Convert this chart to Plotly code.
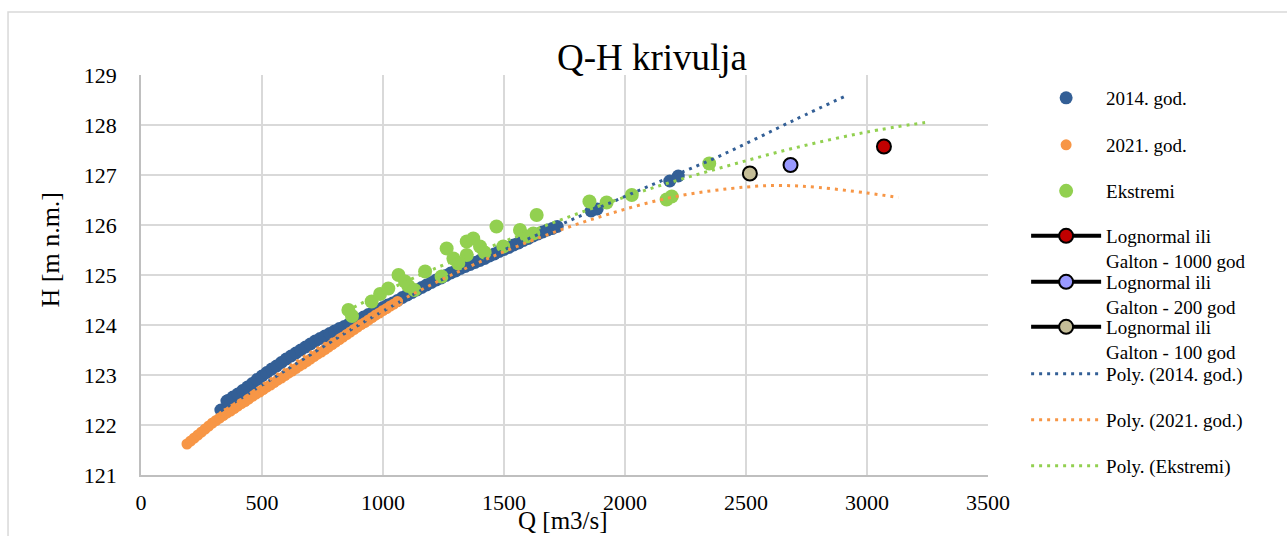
import plotly.graph_objects as go

# --- measured series -------------------------------------------------------
q_2014 = [330, 355, 360, 380, 400, 420, 440, 460, 480, 500, 520, 540, 560, 580,
          600, 620, 640, 660, 680, 700, 720, 740, 760, 780, 800, 820, 840, 860,
          880, 900, 920, 940, 960, 980, 1000, 1020, 1040, 1060, 1080, 1100, 1120,
          1140, 1160, 1180, 1200, 1220, 1240, 1260, 1280, 1300, 1320, 1340, 1360,
          1380, 1400, 1420, 1440, 1460, 1480, 1500, 1520, 1540, 1560, 1580, 1600,
          1620, 1640, 1660, 1680, 1700, 1720, 1860, 1885, 2185, 2220]
h_2014 = [122.30, 122.48, 122.49, 122.56, 122.62, 122.69, 122.76, 122.83, 122.91,
          122.98, 123.05, 123.12, 123.18, 123.25, 123.32, 123.38, 123.44, 123.50,
          123.56, 123.62, 123.68, 123.73, 123.78, 123.83, 123.88, 123.93, 123.97,
          124.02, 124.07, 124.11, 124.16, 124.21, 124.25, 124.30, 124.35, 124.40,
          124.44, 124.49, 124.55, 124.60, 124.65, 124.70, 124.75, 124.80, 124.85,
          124.90, 124.94, 124.99, 125.04, 125.08, 125.13, 125.17, 125.21, 125.25,
          125.29, 125.33, 125.38, 125.42, 125.47, 125.51, 125.55, 125.60, 125.64,
          125.69, 125.73, 125.78, 125.82, 125.86, 125.90, 125.93, 125.97, 126.28,
          126.32, 126.88, 126.98]

q_2021 = [190, 205, 220, 235, 250, 265, 280, 295, 310, 325, 340, 355, 370, 385,
          400, 415, 430, 445, 460, 475, 490, 505, 520, 535, 550, 565, 580, 595,
          610, 625, 640, 655, 670, 685, 700, 715, 730, 745, 760, 775, 790, 805,
          820, 835, 850, 865, 880, 895, 910, 925, 940, 955, 970, 985, 1000, 1015,
          1030, 1045, 1060]
h_2021 = [121.62, 121.68, 121.74, 121.80, 121.86, 121.92, 121.98, 122.04, 122.09,
          122.14, 122.19, 122.24, 122.28, 122.33, 122.38, 122.43, 122.47, 122.52,
          122.57, 122.62, 122.66, 122.71, 122.76, 122.80, 122.85, 122.90, 122.94,
          122.99, 123.04, 123.08, 123.13, 123.18, 123.22, 123.27, 123.32, 123.37,
          123.42, 123.46, 123.51, 123.56, 123.61, 123.66, 123.71, 123.76, 123.81,
          123.86, 123.91, 123.96, 124.01, 124.05, 124.10, 124.15, 124.20, 124.24,
          124.29, 124.33, 124.38, 124.42, 124.47]

q_ext = [857, 872, 953, 988, 1022, 1064, 1091, 1105, 1130, 1174, 1242, 1263, 1291,
         1311, 1346, 1346, 1373, 1401, 1420, 1469, 1497, 1566, 1594, 1621, 1635,
         1853, 1924, 2028, 2172, 2193, 2348]
h_ext = [124.30, 124.18, 124.47, 124.62, 124.73, 125.00, 124.87, 124.78, 124.70,
         125.07, 124.97, 125.53, 125.33, 125.23, 125.67, 125.40, 125.73, 125.57,
         125.45, 125.97, 125.57, 125.90, 125.77, 125.83, 126.20, 126.47, 126.45,
         126.60, 126.51, 126.57, 127.23]

# Lognormal (Galton) design floods
ln_names = ["Lognormal ili<br>Galton - 1000 god",
            "Lognormal ili<br>Galton - 200 god",
            "Lognormal ili<br>Galton - 100 god"]
ln_q = [3070, 2684, 2516]
ln_h = [127.57, 127.20, 127.03]
ln_colors = ["#c00000", "#9999ff", "#c4bd97"]

# polynomial trend lines, sampled along each curve
trend_names = ["Poly. (2014. god.)", "Poly. (2021. god.)", "Poly. (Ekstremi)"]
trend_q_2014 = [330, 600, 900, 1200, 1500, 1800, 2100, 2400, 2700, 2920]
trend_h_2014 = [122.28, 123.10, 124.00, 124.80, 125.50, 126.15, 126.78, 127.40,
                128.10, 128.60]
trend_q_2021 = [190, 400, 700, 1000, 1300, 1600, 1900, 2200, 2500, 2650, 2800,
                3000, 3130]
trend_h_2021 = [121.65, 122.45, 123.45, 124.30, 125.04, 125.66, 126.17, 126.56,
                126.76, 126.79, 126.75, 126.64, 126.55]
trend_q_ext = [850, 1000, 1200, 1500, 1800, 2100, 2400, 2700, 3000, 3240]
trend_h_ext = [124.28, 124.65, 125.10, 125.67, 126.22, 126.72, 127.15, 127.54,
               127.86, 128.05]

x_ticks = [0, 500, 1000, 1500, 2000, 2500, 3000, 3500]
y_ticks = [121, 122, 123, 124, 125, 126, 127, 128, 129]

BLUE = "#335f96"
ORANGE = "#f79646"
GREEN = "#92d050"
FONT = "Liberation Serif"

# plot area in pixels: x 141..988, y 75..475
PLOT_TOP, PLOT_H = 75, 400
# vertical centre (px) of each legend entry's first text line
legend_rows = [98, 145, 191, 236, 282, 327, 374, 420, 466]
legend_ids = ["legend"] + ["legend%d" % i for i in range(2, 10)]

fig = go.Figure()

fig.add_trace(go.Scatter(x=q_2014, y=h_2014, mode="markers", name="2014. god.",
                         marker=dict(color=BLUE, size=13)))
fig.add_trace(go.Scatter(x=q_2021, y=h_2021, mode="markers", name="2021. god.",
                         marker=dict(color=ORANGE, size=11)))
fig.add_trace(go.Scatter(x=q_ext, y=h_ext, mode="markers", name="Ekstremi",
                         marker=dict(color=GREEN, size=14)))

for name, q, h, col in zip(ln_names, ln_q, ln_h, ln_colors):
    fig.add_trace(go.Scatter(x=[q], y=[h], mode="lines+markers", name=name,
                             line=dict(color="black", width=4),
                             marker=dict(color=col, size=14,
                                         line=dict(color="black", width=2))))

dots = "3px,5px"
for name, q, h, col in zip(trend_names,
                           [trend_q_2014, trend_q_2021, trend_q_ext],
                           [trend_h_2014, trend_h_2021, trend_h_ext],
                           [BLUE, ORANGE, GREEN]):
    fig.add_trace(go.Scatter(x=q, y=h, mode="lines", name=name,
                             line_shape="spline",
                             line=dict(color=col, width=3, dash=dots)))

# one legend box per entry so the rows keep a fixed pitch
legend_layout = {}
for trace, lid, row in zip(fig.data, legend_ids, legend_rows):
    trace.legend = lid
    trace.showlegend = True
    legend_layout[lid] = dict(
        visible=True, xanchor="left", yanchor="top", x=1.045,
        y=(PLOT_TOP + PLOT_H - (row - 19)) / PLOT_H,
        font=dict(family=FONT, size=19, color="black"),
        itemwidth=70, bgcolor="rgba(0,0,0,0)", valign="top", itemclick=False)

fig.update_layout(
    width=1287, height=536,
    showlegend=True,
    margin=dict(l=141, r=299, t=75, b=61),
    paper_bgcolor="white", plot_bgcolor="white",
    font=dict(family=FONT, color="black"),
    title=dict(text="Q-H krivulja", x=0.5066, xref="container", xanchor="center",
               y=1 - 57 / 536, yref="container", yanchor="middle",
               font=dict(family=FONT, size=37, color="black")),
    xaxis=dict(range=[0, 3500], tickvals=x_ticks, showgrid=True,
               gridcolor="#d9d9d9", gridwidth=1.5, zeroline=False,
               showline=True, linecolor="#bfbfbf", linewidth=1.5,
               ticks="outside", ticklen=7, tickcolor="rgba(0,0,0,0)",
               tickfont=dict(family=FONT, size=22, color="black")),
    yaxis=dict(range=[121, 129], tickvals=y_ticks, showgrid=True,
               gridcolor="#d9d9d9", gridwidth=1.5, zeroline=False,
               showline=True, linecolor="#bfbfbf", linewidth=1.5,
               ticks="outside", ticklen=18, tickcolor="rgba(0,0,0,0)",
               tickfont=dict(family=FONT, size=22, color="black")),
    annotations=[
        dict(text="Q [m3/s]", xref="paper", yref="paper", x=0.498, y=-0.1125,
             xanchor="center", yanchor="middle", showarrow=False,
             font=dict(family=FONT, size=25, color="black")),
        dict(text="H [m n.m.]", xref="paper", yref="paper", x=-0.108, y=0.5625,
             xanchor="center", yanchor="middle", showarrow=False, textangle=-90,
             font=dict(family=FONT, size=26, color="black")),
    ],
    shapes=[dict(type="rect", xref="paper", yref="paper", x0=-0.157, y0=-0.5,
                 x1=1.6, y1=1.1575, line=dict(color="#d9d9d9", width=1.5),
                 layer="below")],
    **legend_layout,
)

fig.write_html("out.html")
